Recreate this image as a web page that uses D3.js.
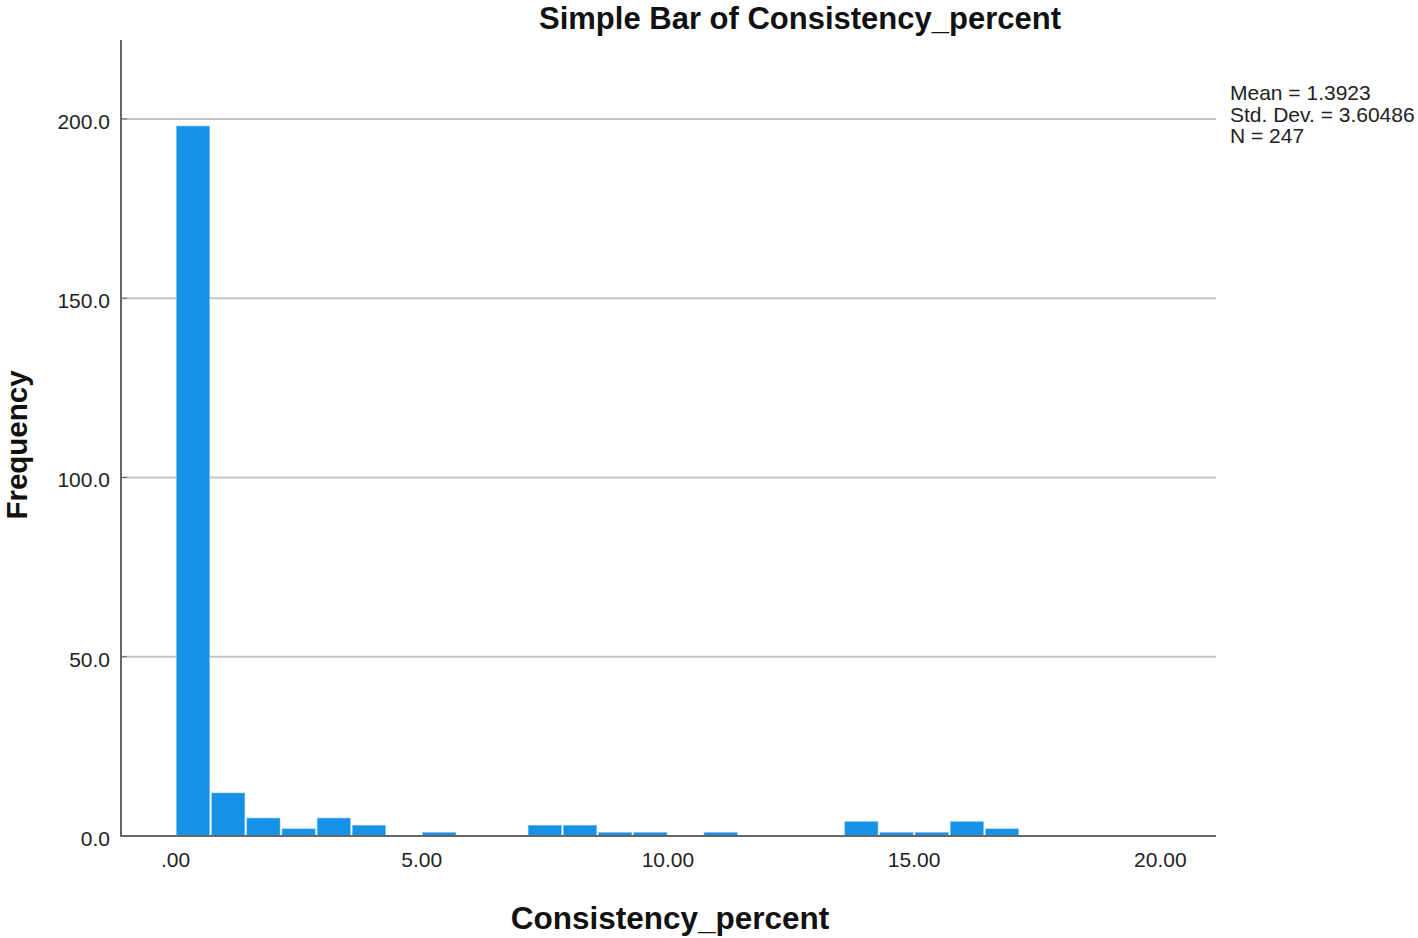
<!DOCTYPE html>
<html><head><meta charset="utf-8">
<script src="https://cdn.jsdelivr.net/npm/d3@7"></script>
<style>body{margin:0;background:#fff;} text{font-family:"Liberation Sans",Arial,sans-serif;}</style>
</head><body>
<svg id="c" width="1418" height="938"></svg>
<script>
const binWidth = 5/7;
const binStarts = [0,1,2,3,4,5,6,7,8,9,10,11,12,13,14,15,16,17,18,19,20,21,22,23];
const frequencies = [198,12,5,2,5,3,0,1,0,0,3,3,1,1,0,1,0,0,0,4,1,1,4,2];
const yTicks = [0,50,100,150,200];
const xTicks = [0,5,10,15,20];
const xTickLabels = [".00","5.00","10.00","15.00","20.00"];
const statsLines = ["Mean = 1.3923","Std. Dev. = 3.60486","N = 247"];

(function(){
const svg = d3.select("#c");
const pL = 121, pR = 1216, pT = 40, pB = 836;
const x = d3.scaleLinear().domain([-1.096, 21.14]).range([pL, pR]);
const y = d3.scaleLinear().domain([0, 222]).range([pB, pT]);
const FF = "Liberation Sans, Arial, sans-serif";

// gridlines
svg.append("g").selectAll("line").data(yTicks.filter(d=>d>0)).join("line")
  .attr("x1", pL).attr("x2", pR)
  .attr("y1", d=>y(d)).attr("y2", d=>y(d))
  .attr("stroke", "#c4c4c4").attr("stroke-width", 2);

// bars
const data = binStarts.map((b,i)=>({x0:b*binWidth, x1:(b+1)*binWidth, v:frequencies[i]})).filter(d=>d.v>0);
svg.append("g").selectAll("rect").data(data).join("rect")
  .attr("x", d=>x(d.x0)+1.5)
  .attr("width", d=>x(d.x1)-x(d.x0)-2)
  .attr("y", d=>y(d.v))
  .attr("height", d=>y(0)-y(d.v))
  .attr("fill", "#1591e6")
  .attr("stroke", "#7cc0f0").attr("stroke-width", 0.6);

// y axis
const yAxis = d3.axisLeft(y).tickValues(yTicks).tickFormat(d3.format(".1f")).tickSize(0).tickPadding(11);
const gy = svg.append("g").attr("transform", `translate(${pL},0)`).call(yAxis);
gy.select(".domain").remove();
gy.selectAll("text").attr("font-size", 21).attr("fill", "#222").attr("font-family", FF).attr("dy", "0.45em");
svg.append("line").attr("x1", pL).attr("x2", pL).attr("y1", pT).attr("y2", pB)
  .attr("stroke", "#666").attr("stroke-width", 2);
svg.append("g").selectAll("line").data(yTicks).join("line")
  .attr("x1", pL).attr("x2", pL+6).attr("y1", d=>y(d)).attr("y2", d=>y(d))
  .attr("stroke", "#666").attr("stroke-width", 1);

// x axis
const xAxis = d3.axisBottom(x).tickValues(xTicks).tickFormat((d,i)=>xTickLabels[i]).tickSize(0).tickPadding(16);
const gx = svg.append("g").attr("transform", `translate(0,${pB})`).call(xAxis);
gx.select(".domain").remove();
gx.selectAll("text").attr("font-size", 21).attr("fill", "#222").attr("font-family", FF);
svg.append("line").attr("x1", pL-1).attr("x2", pR).attr("y1", pB).attr("y2", pB)
  .attr("stroke", "#666").attr("stroke-width", 2);

// title & labels
svg.append("text").attr("x", 800).attr("y", 28.5).attr("text-anchor", "middle")
  .attr("font-size", 31).attr("font-weight", "bold").attr("fill", "#111").text("Simple Bar of Consistency_percent");
svg.append("text").attr("x", 670).attr("y", 929).attr("text-anchor", "middle")
  .attr("font-size", 31.5).attr("font-weight", "bold").attr("fill", "#111").text("Consistency_percent");
svg.append("text").attr("transform", "translate(27,445) rotate(-90)").attr("text-anchor", "middle")
  .attr("font-size", 29.5).attr("font-weight", "bold").attr("fill", "#111").text("Frequency");

// stats
svg.append("g").selectAll("text").data(statsLines).join("text")
  .attr("x", 1230).attr("y", (d,i)=>100 + i*21.5)
  .attr("font-size", 21).attr("fill", "#222").text(d=>d);
})();
</script>
</body></html>
